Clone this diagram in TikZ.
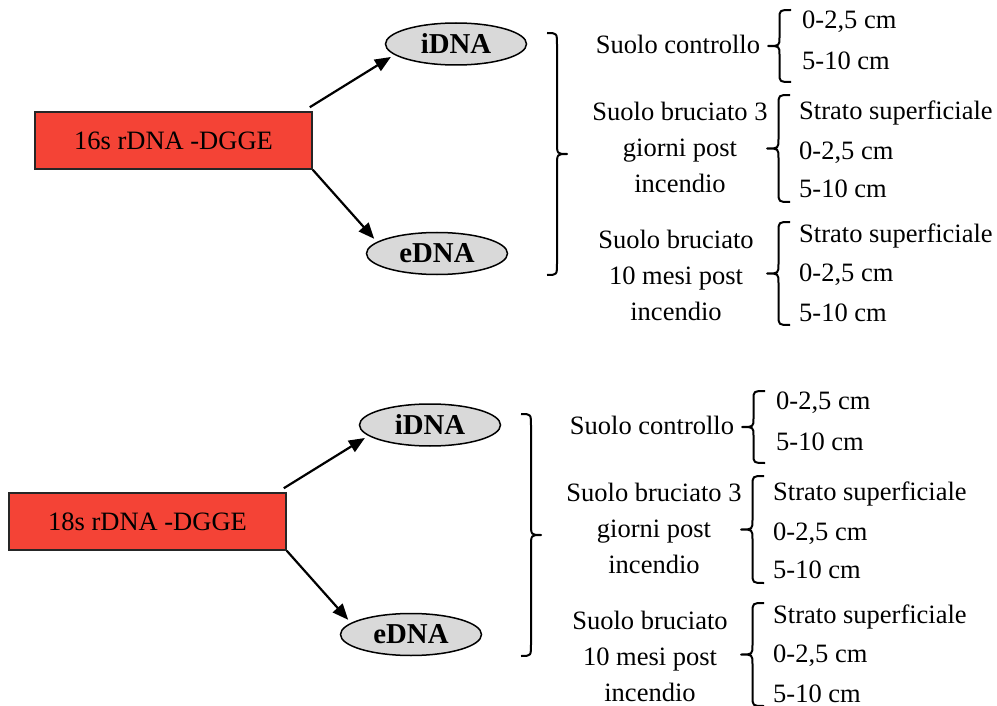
\documentclass[tikz,border=0pt]{standalone}
\usepackage{fontspec}
\setmainfont{Liberation Serif}
\usetikzlibrary{arrows.meta,shapes.geometric}

\definecolor{gelred}{RGB}{244,67,54}
\definecolor{ovalgrey}{RGB}{217,217,217}

\tikzset{
  plain/.style={font=\fontsize{26.5}{36}\selectfont, inner sep=0pt},
  item/.style={plain, anchor=west, text height=18pt, text depth=2pt},
  site/.style={plain, align=center},
  method/.style={plain, draw=black!85, line width=1.5pt, fill=gelred,
                 minimum width=277pt, minimum height=57pt},
  extract/.style={ellipse, draw, line width=1.5pt, fill=ovalgrey,
                  minimum width=141pt, minimum height=42pt, inner sep=0pt,
                  font=\fontsize{28.8}{34}\selectfont\bfseries},
  link/.style={line width=2.2pt, -{Triangle[length=16pt,width=13pt]}, shorten >=4pt},
  bracket/.style={line width=2pt, line join=round},
}

% curly brace: ends at x=#1, from y=#2 down to y=#3,
% depth #4 (its sign chooses the side of the tip), bend radius #5
\newcommand\curly[5]{%
  \draw[bracket] (#1,#2)
    .. controls ({#1+(#4)/2},#2) .. ({#1+(#4)/2},{#2+#5})
    -- ({#1+(#4)/2},{(#2+#3)/2-#5})
    .. controls ({#1+(#4)/2},{(#2+#3)/2}) .. ({#1+(#4)},{(#2+#3)/2})
    .. controls ({#1+(#4)/2},{(#2+#3)/2}) .. ({#1+(#4)/2},{(#2+#3)/2+#5})
    -- ({#1+(#4)/2},{#3-#5})
    .. controls ({#1+(#4)/2},#3) .. (#1,#3);}

% one DGGE analysis: method box, the two extracts and the sampled soils
\newcommand\dggeblock[2]{%
  \node[method] (#1box) at (173.5,140.5) {#2};
  \node[extract] (#1i) at (456,44) {iDNA};
  \node[extract] (#1e) at (437,253.5) {eDNA};
  \draw[link] ([shift={(-3,-4)}]#1box.north east) -- (#1i.190);
  \draw[link] (#1box.south east) -- (#1e.169);
  \curly{547}{33}{275}{20}{12}
  % control soil
  \node[site] (#1ctl) at (678,44) {Suolo controllo};
  \curly{791}{10}{82}{-23}{9}
  \node[item] (#1ctla) at (802,20.5) {0-2,5 cm};
  \node[item] (#1ctlb) at (802,61.5) {5-10 cm};
  % burnt soil, 3 days
  \node[site] (#1bda) at (680,147) {Suolo bruciato 3\\giorni post\\incendio};
  \curly{790}{95}{202}{-23}{10}
  \node[item] (#1bdaa) at (799,111.5) {Strato superficiale};
  \node[item] (#1bdab) at (799,151.5) {0-2,5 cm};
  \node[item] (#1bdac) at (799,189.5) {5-10 cm};
  % burnt soil, 10 months
  \node[site] (#1bmo) at (676,275) {Suolo bruciato\\10 mesi post\\incendio};
  \curly{790}{222}{325}{-23}{10}
  \node[item] (#1bmoa) at (799,234.5) {Strato superficiale};
  \node[item] (#1bmob) at (799,273.5) {0-2,5 cm};
  \node[item] (#1bmoc) at (799,313.5) {5-10 cm};
}

\begin{document}
\begin{tikzpicture}[x=1pt,y=-1pt]
  \useasboundingbox (0,0) rectangle (997,706);
  \dggeblock{s}{16s rDNA -DGGE}
  \begin{scope}[shift={(-26,381)}]
    \dggeblock{t}{18s rDNA -DGGE}
  \end{scope}
\end{tikzpicture}
\end{document}
